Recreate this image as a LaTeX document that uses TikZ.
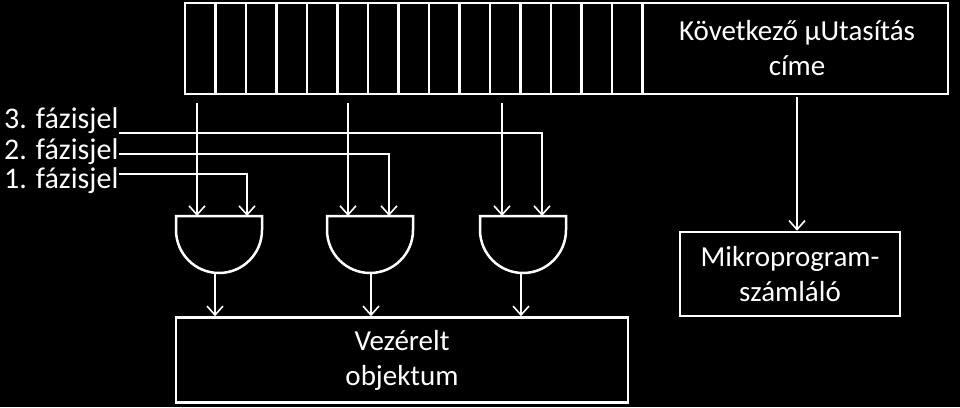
\documentclass[tikz,border=0pt]{standalone}
\usepackage{fontspec}
\setmainfont{Carlito}
\usetikzlibrary{arrows.meta, positioning}
\tikzset{
  wire/.style={draw=white, line width=1.6pt},
  arr/.style={wire, -{Straight Barb[length=9pt, width=16pt]}},
  box/.style={draw=white, line width=2.5pt, align=center, text=white, font=\fontsize{29}{35}\selectfont},
  lbl/.style={text=white, font=\fontsize{30}{32}\selectfont, inner sep=0pt, anchor=west}
}
\begin{document}
\begin{tikzpicture}[x=1pt, y=-1pt]
  \fill[black] (0,0) rectangle (960,407);
  \useasboundingbox (0,0) rectangle (960,407);
  % register
  \draw[box] (185,3) rectangle (948,94);
  \foreach \i in {1,...,15}
    \draw[wire, line width=2.5pt] (185+\i*30.5,3) -- (185+\i*30.5,94);
  \node[text=white, font=\fontsize{29}{35}\selectfont, align=center] (next) at (797,48) {Következő µUtasítás\\címe};
  % boxes
  \node[box, minimum width=220pt, minimum height=84pt] (mpc) at (790,274) {Mikroprogram-\\számláló};
  \node[box, minimum width=452pt, minimum height=85pt] (obj) at (402,360) {Vezérelt\\objektum};
  \draw[arr] (797,97) -- (mpc.north -| 797,0);
  % gates
  \foreach \g/\x/\l/\r/\o in {a/176/21/71/39,b/327/21/62/44,c/480/22/62/41} {
    \draw[wire, line width=2.5pt] (\x,216) -- (\x+86,216) -- (\x+86,230) arc[start angle=0, end angle=180, radius=43pt, y radius=-43pt] -- cycle;
    \coordinate (\g1) at (\x+\l,216);
    \coordinate (\g2) at (\x+\r,216);
    \coordinate (\g0) at (\x+\o,274);
    \draw[arr] (\g0) -- (\g0 |- obj.north);
  }
  % phase signals
  \node[lbl] (p3) at (4,121) {3. fázisjel};
  \node[lbl] (p2) at (4,152) {2. fázisjel};
  \node[lbl] (p1) at (4,181) {1. fázisjel};
  \draw[arr] (p3.east |- 0,133) -| (c2);
  \draw[arr] (p2.east |- 0,154) -| (b2);
  \draw[arr] (p1.east |- 0,174) -| (a2);
  \draw[arr] (a1 |- 0,103) -- (a1);
  \draw[arr] (b1 |- 0,103) -- (b1);
  \draw[arr] (c1 |- 0,103) -- (c1);
\end{tikzpicture}
\end{document}
